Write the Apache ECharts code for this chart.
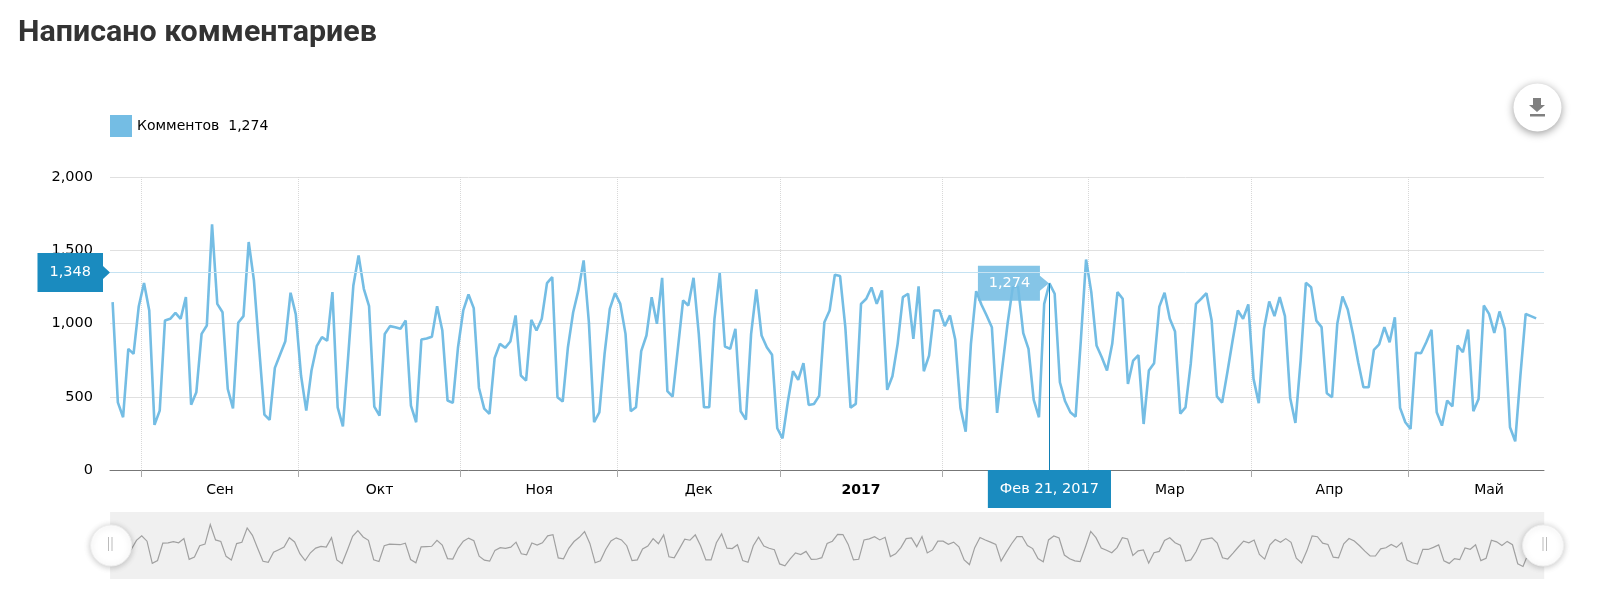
<!DOCTYPE html>
<html>
<head>
<meta charset="utf-8">
<script src="https://cdn.jsdelivr.net/npm/echarts@6/dist/echarts.min.js"></script>
<style>
  html, body { margin: 0; padding: 0; background: #fff; }
  #main { width: 1600px; height: 607px; }
</style>
</head>
<body>
<div id="main"></div>
<script>
// daily comments, first day is Aug 26 2016
var startDay = '2016-08-26';
var comments = [
  1146, 462, 360, 827, 793, 1118, 1276, 1089, 308, 405, 1020, 1032, 1073, 1032, 1180, 446, 531, 929, 986, 1677,
  1134, 1077, 553, 421, 1005, 1050, 1556, 1294, 830, 378, 342, 697, 788, 879, 1210, 1062, 645, 405, 679, 845,
  907, 882, 1214, 428, 298, 770, 1260, 1465, 1237, 1118, 433, 371, 929, 982, 975, 964, 1020, 440, 326, 891,
  898, 909, 1118, 952, 474, 458, 838, 1089, 1198, 1105, 560, 419, 383, 765, 861, 834, 877, 1055, 645, 610,
  1025, 952, 1032, 1276, 1317, 497, 467, 838, 1077, 1226, 1431, 1009, 326, 394, 793, 1100, 1207, 1134, 929, 401,
  428, 811, 918, 1180, 998, 1312, 538, 501, 827, 1157, 1123, 1312, 929, 428, 428, 1032, 1344, 843, 827, 964,
  401, 344, 929, 1232, 918, 838, 786, 285, 216, 462, 674, 615, 729, 444, 451, 506, 1009, 1089, 1333, 1324,
  975, 426, 451, 1134, 1169, 1246, 1134, 1226, 547, 640, 861, 1180, 1203, 895, 1253, 674, 781, 1089, 1089, 982,
  1055, 891, 424, 262, 861, 1221, 1130, 1055, 975, 390, 702, 998, 1248, 1253, 934, 827, 478, 360, 1134, 1274,
  1203, 599, 469, 394, 364, 884, 1437, 1214, 850, 770, 679, 861, 1214, 1169, 588, 747, 784, 314, 679, 729,
  1115, 1210, 1032, 945, 385, 428, 724, 1134, 1169, 1207, 1020, 503, 460, 667, 884, 1089, 1032, 1130, 622, 456,
  964, 1150, 1050, 1180, 1050, 492, 321, 747, 1278, 1248, 1020, 975, 524, 497, 998, 1185, 1096, 929, 736, 565,
  565, 820, 857, 975, 872, 1043, 424, 326, 280, 800, 797, 872, 957, 394, 303, 474, 435, 850, 804, 959,
  401, 485, 1123, 1066, 936, 1082, 964, 292, 196, 650, 1065, 1050, 1035
];
var monthStarts = ['2016-09-01', '2016-10-01', '2016-11-01', '2016-12-01', '2017-01-01', '2017-02-01', '2017-03-01', '2017-04-01', '2017-05-01'];
var monthNames = ['Сен', 'Окт', 'Ноя', 'Дек', '2017', 'Фев', 'Мар', 'Апр', 'Май'];
var selectedDay = '2017-02-21';
var selectedValue = 1274;
var cursorValue = 1348;

var DAY = 86400000;
function ts(s) { return new Date(s + 'T00:00:00Z').getTime(); }
var fmt = function (v) { return Math.round(v).toString().replace(/\B(?=(\d{3})+$)/g, ','); };

// a day's point sits in the middle of its day
var seriesData = comments.map(function (v, i) {
  return [ts(startDay) + i * DAY + DAY / 2, v];
});
var tickTimes = monthStarts.map(ts);
// month names go between the ticks
var labelTimes = tickTimes.map(function (t, i) {
  var next = i < tickTimes.length - 1 ? tickTimes[i + 1] : t + 31 * DAY;
  return Math.round((t + next) / 2);
});
var labelName = {};
labelTimes.forEach(function (t, i) { labelName[t] = monthNames[i]; });

var selectedTime = ts(selectedDay) + DAY / 2;
var font = '"DejaVu Sans", Verdana, sans-serif';
var boxBlue = '#1a8bbf';

var myChart = echarts.init(document.getElementById('main'));
var option = {
  animation: false,
  backgroundColor: '#fff',
  textStyle: { fontFamily: font },
  title: {
    text: 'Написано комментариев',
    left: 13,
    top: 13,
    textStyle: { fontFamily: 'Roboto, sans-serif', fontSize: 30.4, fontWeight: 'bold', color: '#333' }
  },
  legend: {
    left: 105,
    top: 110,
    icon: 'rect',
    itemWidth: 22,
    itemHeight: 22,
    itemGap: 6,
    selectedMode: false,
    formatter: function (name) { return name + '  ' + fmt(selectedValue); },
    textStyle: { fontFamily: font, fontSize: 14, color: '#000' }
  },
  grid: { left: 110, right: 56, top: 177, height: 293 },
  // timestamps on a value axis, the month ticks are set by hand
  xAxis: {
    type: 'value',
    min: ts(startDay),
    max: ts('2017-05-27'),
    axisLine: { onZero: false, lineStyle: { color: '#777', width: 1 } },
    axisTick: { show: true, length: 7, customValues: tickTimes, lineStyle: { color: '#aaa' } },
    splitLine: { show: true, lineStyle: { color: '#d8d8d8', type: 'dotted', width: 1 } },
    axisLabel: {
      customValues: labelTimes,
      margin: 13,
      fontSize: 14,
      color: '#000',
      hideOverlap: false,
      formatter: function (v) {
        var s = labelName[v];
        return s === '2017' ? '{b|' + s + '}' : s;
      },
      rich: { b: { fontWeight: 'bold', fontSize: 14, color: '#000', fontFamily: font } }
    },
    axisPointer: {
      show: true,
      status: 'show',
      value: selectedTime,
      triggerTooltip: false,
      lineStyle: { opacity: 0 },
      label: {
        show: true,
        margin: 0,
        padding: [11.5, 12, 11.5, 12],
        borderRadius: 0,
        backgroundColor: boxBlue,
        color: '#fff',
        fontFamily: font,
        fontSize: 14.5,
        formatter: function () { return 'Фев 21, 2017'; }
      }
    }
  },
  yAxis: {
    type: 'value',
    min: 0,
    max: 2000,
    interval: 500,
    axisLine: { show: false },
    axisTick: { show: false },
    axisLabel: { margin: 17, fontSize: 14.5, color: '#000', padding: [4, 0, 0, 0], formatter: fmt },
    splitLine: { lineStyle: { color: '#e0e0e0', width: 1 } },
    axisPointer: {
      show: true,
      status: 'show',
      value: cursorValue,
      triggerTooltip: false,
      lineStyle: { color: '#c5e2f2', width: 1, type: 'solid' },
      label: {
        show: true,
        margin: 7,
        padding: [12, 12, 12, 12],
        borderRadius: 0,
        backgroundColor: boxBlue,
        color: '#fff',
        fontFamily: font,
        fontSize: 14.5,
        formatter: function () { return fmt(cursorValue); }
      }
    }
  },
  dataZoom: [{
    type: 'slider',
    xAxisIndex: 0,
    left: 107.6,
    right: 58.4,
    top: 512,
    height: 67,
    start: 0,
    end: 100,
    showDetail: false,
    brushSelect: false,
    moveHandleSize: 0,
    realtime: false,
    borderColor: 'transparent',
    backgroundColor: '#f5f5f5',
    fillerColor: 'rgba(235,235,235,0.5)',
    handleIcon: 'circle',
    handleSize: 41,
    handleStyle: {
      color: '#fff',
      borderColor: '#eee',
      borderWidth: 1,
      shadowBlur: 6,
      shadowColor: 'rgba(0,0,0,0.22)',
      shadowOffsetY: 1
    },
    dataBackground: {
      lineStyle: { color: '#555', width: 1.2, opacity: 1 },
      areaStyle: { opacity: 0 }
    },
    selectedDataBackground: {
      lineStyle: { color: '#555', width: 1.2, opacity: 1 },
      areaStyle: { opacity: 0 }
    }
  }],
  series: [{
    name: 'Комментов',
    type: 'line',
    data: seriesData,
    showSymbol: false,
    symbol: 'none',
    clip: false,
    lineStyle: { color: '#74bde4', width: 2.6 },
    itemStyle: { color: '#74bde4' },
    markLine: {
      silent: true,
      symbol: 'none',
      label: { show: false },
      lineStyle: { color: '#0f7fb5', width: 1, type: 'solid' },
      data: [[{ coord: [selectedTime, 0] }, { coord: [selectedTime, selectedValue] }]]
    },
    markPoint: {
      silent: true,
      data: [{
        coord: [selectedTime, selectedValue],
        // box with a pointer to the right, tip on the point
        symbol: 'path://M0 0H62V10L71 17.5L62 25V35H0Z',
        symbolSize: [71, 35],
        symbolOffset: [-36, 0],
        itemStyle: { color: 'rgba(116,189,228,0.88)' },
        label: {
          show: true,
          position: 'inside',
          offset: [-4, 0],
          color: '#fff',
          fontFamily: font,
          fontSize: 14.5,
          formatter: function () { return fmt(selectedValue); }
        }
      }, {
        // arrow of the left cursor box
        coord: [ts(startDay), cursorValue],
        symbol: 'path://M0 0L7 6.5L0 13Z',
        symbolSize: [7, 13],
        symbolOffset: [-3.5, 0],
        itemStyle: { color: boxBlue },
        label: { show: false }
      }]
    }
  }],
  graphic: [
    {
      type: 'circle',
      shape: { cx: 1537.5, cy: 107.5, r: 24 },
      z: 100,
      style: { fill: '#fff', shadowBlur: 8, shadowColor: 'rgba(0,0,0,0.4)', shadowOffsetY: 2 }
    },
    {
      type: 'polygon',
      z: 101,
      shape: { points: [[1533, 98], [1541, 98], [1541, 105], [1545, 105], [1537, 112], [1529, 105], [1533, 105]] },
      style: { fill: '#808080' }
    },
    { type: 'rect', z: 101, shape: { x: 1530, y: 114, width: 15, height: 2.5 }, style: { fill: '#808080' } },
    // the grips on the two slider handles
    { type: 'rect', z: 100, shape: { x: 108, y: 537, width: 1, height: 14 }, style: { fill: '#bbb' } },
    { type: 'rect', z: 100, shape: { x: 111.5, y: 537, width: 1, height: 14 }, style: { fill: '#bbb' } },
    { type: 'rect', z: 100, shape: { x: 1542.5, y: 537, width: 1, height: 14 }, style: { fill: '#bbb' } },
    { type: 'rect', z: 100, shape: { x: 1546, y: 537, width: 1, height: 14 }, style: { fill: '#bbb' } }
  ]
};
myChart.setOption(option);
</script>
</body>
</html>
